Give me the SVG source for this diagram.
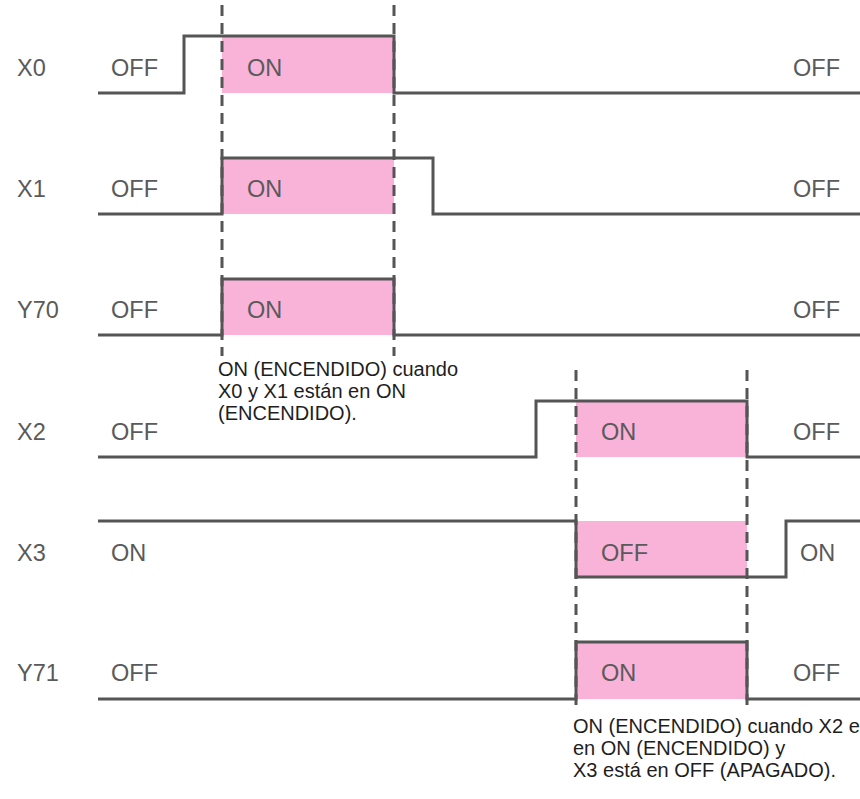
<svg xmlns="http://www.w3.org/2000/svg" width="860" height="799" viewBox="0 0 860 799">
<style>
.bg{fill:#ffffff}
.on{fill:#f9b2d8}
.sig{fill:none;stroke:#555555;stroke-width:3;stroke-linejoin:miter}
.dash{fill:none;stroke:#555555;stroke-width:3;stroke-dasharray:11 7}
.lbl{font-family:"Liberation Sans",Arial,sans-serif;font-size:23.5px;fill:#5a5a5a}
.note{font-family:"Liberation Sans",Arial,sans-serif;font-size:20px;fill:#1e1e1e}
</style>
<rect class="bg" x="0" y="0" width="860" height="799"/>
<g id="highlights">
<rect class="on" x="222" y="36" width="172" height="57"/>
<rect class="on" x="222" y="158" width="172" height="56"/>
<rect class="on" x="222" y="279" width="172" height="56"/>
<rect class="on" x="576" y="401" width="171" height="56"/>
<rect class="on" x="576" y="521" width="171" height="56"/>
<rect class="on" x="576" y="642" width="171" height="57"/>
</g>
<g id="guides">
<line class="dash" x1="222" y1="5" x2="222" y2="356"/>
<line class="dash" x1="394" y1="5" x2="394" y2="356"/>
<line class="dash" x1="576" y1="370" x2="576" y2="712"/>
<line class="dash" x1="747" y1="370" x2="747" y2="712"/>
</g>
<g id="X0">
<text class="lbl" x="17" y="76">X0</text>
<text class="lbl" x="111" y="76">OFF</text>
<text class="lbl" x="247" y="76">ON</text>
<text class="lbl" x="793" y="76">OFF</text>
<path class="sig" d="M98,93 H184 V36 H394 V93 H860"/>
</g>
<g id="X1">
<text class="lbl" x="17" y="197">X1</text>
<text class="lbl" x="111" y="197">OFF</text>
<text class="lbl" x="247" y="197">ON</text>
<text class="lbl" x="793" y="197">OFF</text>
<path class="sig" d="M98,214 H222 V158 H433 V214 H860"/>
</g>
<g id="Y70">
<text class="lbl" x="17" y="318">Y70</text>
<text class="lbl" x="111" y="318">OFF</text>
<text class="lbl" x="247" y="318">ON</text>
<text class="lbl" x="793" y="318">OFF</text>
<path class="sig" d="M98,335 H222 V279 H394 V335 H860"/>
</g>
<g id="note1">
<text class="note" x="218" y="376">ON (ENCENDIDO) cuando</text>
<text class="note" x="218" y="398">X0 y X1 están en ON</text>
<text class="note" x="218" y="420">(ENCENDIDO).</text>
</g>
<g id="X2">
<text class="lbl" x="17" y="440">X2</text>
<text class="lbl" x="111" y="440">OFF</text>
<text class="lbl" x="601" y="440">ON</text>
<text class="lbl" x="793" y="440">OFF</text>
<path class="sig" d="M98,457 H536 V401 H747 V457 H860"/>
</g>
<g id="X3">
<text class="lbl" x="17" y="561">X3</text>
<text class="lbl" x="111" y="561">ON</text>
<text class="lbl" x="601" y="561">OFF</text>
<text class="lbl" x="800" y="561">ON</text>
<path class="sig" d="M98,521 H576 V577 H786 V521 H860"/>
</g>
<g id="Y71">
<text class="lbl" x="17" y="681">Y71</text>
<text class="lbl" x="111" y="681">OFF</text>
<text class="lbl" x="601" y="681">ON</text>
<text class="lbl" x="793" y="681">OFF</text>
<path class="sig" d="M98,699 H576 V642 H747 V699 H860"/>
</g>
<g id="note2">
<text class="note" x="573" y="733">ON (ENCENDIDO) cuando X2 e</text>
<text class="note" x="573" y="755">en ON (ENCENDIDO) y</text>
<text class="note" x="573" y="777">X3 está en OFF (APAGADO).</text>
</g>
</svg>
